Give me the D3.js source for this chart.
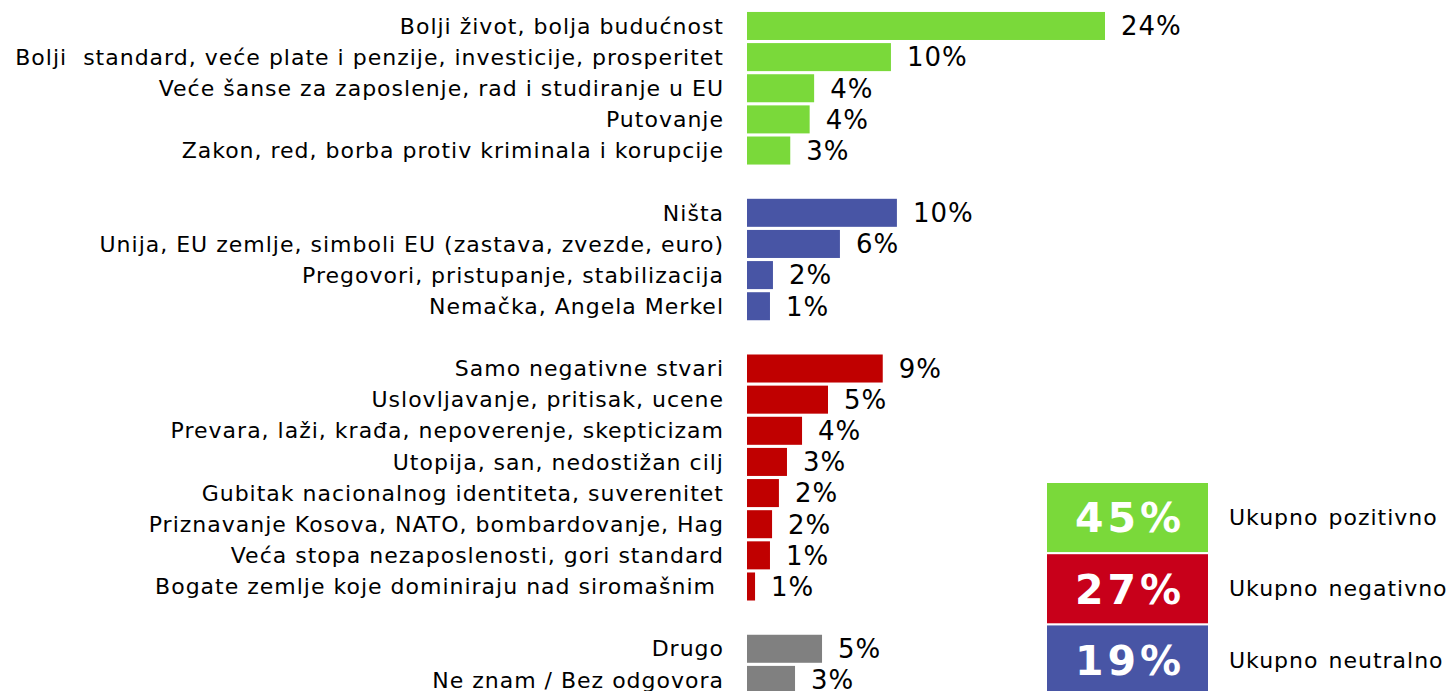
<!DOCTYPE html>
<html>
<head>
<meta charset="utf-8">
<script src="https://cdn.jsdelivr.net/npm/d3@7"></script>
<style>
  body { margin: 0; background: #fff; }
  text { font-family: "DejaVu Sans", Verdana, sans-serif; fill: #000; }
</style>
</head>
<body>
<div id="chart"></div>
<script>
const width = 1451;
const height = 691;

// answer groups (bar lengths, labels as printed)
const positiveItems = ["Bolji život, bolja budućnost", "Bolji  standard, veće plate i penzije, investicije, prosperitet",
    "Veće šanse za zaposlenje, rad i studiranje u EU", "Putovanje", "Zakon, red, borba protiv kriminala i korupcije"];
const positiveValues = [24.0, 9.65, 4.5, 4.2, 2.9];
const positiveLabels = ["24%", "10%", "4%", "4%", "3%"];

const neutralItems = ["Ništa", "Unija, EU zemlje, simboli EU (zastava, zvezde, euro)",
    "Pregovori, pristupanje, stabilizacija", "Nemačka, Angela Merkel"];
const neutralValues = [10.05, 6.23, 1.74, 1.54];
const neutralLabels = ["10%", "6%", "2%", "1%"];

const negativeItems = ["Samo negativne stvari", "Uslovljavanje, pritisak, ucene",
    "Prevara, laži, krađa, nepoverenje, skepticizam", "Utopija, san, nedostižan cilj",
    "Gubitak nacionalnog identiteta, suverenitet", "Priznavanje Kosova, NATO, bombardovanje, Hag",
    "Veća stopa nezaposlenosti, gori standard", "Bogate zemlje koje dominiraju nad siromašnim "];
const negativeValues = [9.1, 5.43, 3.69, 2.68, 2.14, 1.68, 1.54, 0.54];
const negativeLabels = ["9%", "5%", "4%", "3%", "2%", "2%", "1%", "1%"];

const otherItems = ["Drugo", "Ne znam / Bez odgovora"];
const otherValues = [5.03, 3.22];
const otherLabels = ["5%", "3%"];

const totalNames = ["Ukupno pozitivno", "Ukupno negativno", "Ukupno neutralno"];
const totalValues = ["45%", "27%", "19%"];

const groups = [
    { items: positiveItems, values: positiveValues, labels: positiveLabels, color: "#7ad93a" },
    { items: neutralItems, values: neutralValues, labels: neutralLabels, color: "#4855a5" },
    { items: negativeItems, values: negativeValues, labels: negativeLabels, color: "#c00000" },
    { items: otherItems, values: otherValues, labels: otherLabels, color: "#808080" }
];
const totalColors = ["#7ad93a", "#c8001a", "#4855a5"];

// flatten into rows with an empty spacer row between groups
const rows = [];
groups.forEach((g, gi) => {
    if (gi > 0) rows.push({ key: "gap" + gi, spacer: true });
    g.items.forEach((name, i) => {
        rows.push({ key: "r" + rows.length, name: name, value: g.values[i], label: g.labels[i], color: g.color });
    });
});
const bars = rows.filter(d => !d.spacer);

const svg = d3.select("#chart")
    .append("svg")
    .attr("width", width)
    .attr("height", height);

const x = d3.scaleLinear().domain([0, 24]).range([747, 1105]);
const y = d3.scaleBand()
    .domain(rows.map(d => d.key))
    .range([10.4, 10.4 + rows.length * 31.14])
    .paddingInner(0.1)
    .paddingOuter(0.05);

svg.selectAll("rect.bar")
    .data(bars)
    .enter().append("rect")
    .attr("class", "bar")
    .attr("x", x(0))
    .attr("y", d => y(d.key))
    .attr("width", d => x(d.value) - x(0))
    .attr("height", y.bandwidth())
    .attr("fill", d => d.color);

// DejaVu is narrower than the original Verdana, so widen with letter-spacing
svg.selectAll("text.cat")
    .data(bars)
    .enter().append("text")
    .attr("class", "cat")
    .attr("x", 724)
    .attr("y", d => y(d.key) + y.bandwidth() / 2)
    .attr("dy", "0.35em")
    .attr("text-anchor", "end")
    .style("font-size", "22px")
    .style("letter-spacing", "1px")
    .style("white-space", "pre")
    .text(d => d.name);

svg.selectAll("text.val")
    .data(bars)
    .enter().append("text")
    .attr("class", "val")
    .attr("x", d => x(d.value) + 16)
    .attr("y", d => y(d.key) + y.bandwidth() / 2)
    .attr("dy", "0.36em")
    .style("font-size", "26px")
    .style("letter-spacing", "1px")
    .text(d => d.label);

// summary boxes
const ty = d3.scaleBand().domain(totalNames).range([483, 483 + 3 * 70.5]).paddingInner(0.03);

svg.selectAll("rect.total")
    .data(totalNames)
    .enter().append("rect")
    .attr("class", "total")
    .attr("x", 1047)
    .attr("y", d => ty(d))
    .attr("width", 161)
    .attr("height", ty.bandwidth())
    .attr("fill", (d, i) => totalColors[i]);

svg.selectAll("text.totalval")
    .data(totalNames)
    .enter().append("text")
    .attr("class", "totalval")
    .attr("x", 1130)
    .attr("y", d => ty(d) + ty.bandwidth() / 2)
    .attr("dy", "0.36em")
    .attr("text-anchor", "middle")
    .style("font-size", "41px")
    .style("font-weight", "bold")
    .style("letter-spacing", "4px")
    .style("fill", "#fff")
    .text((d, i) => totalValues[i]);

svg.selectAll("text.totalname")
    .data(totalNames)
    .enter().append("text")
    .attr("class", "totalname")
    .attr("x", 1229)
    .attr("y", d => ty(d) + ty.bandwidth() / 2)
    .attr("dy", "0.35em")
    .style("font-size", "22px")
    .style("letter-spacing", "1px")
    .style("word-spacing", "2px")
    .text(d => d);
</script>
</body>
</html>
